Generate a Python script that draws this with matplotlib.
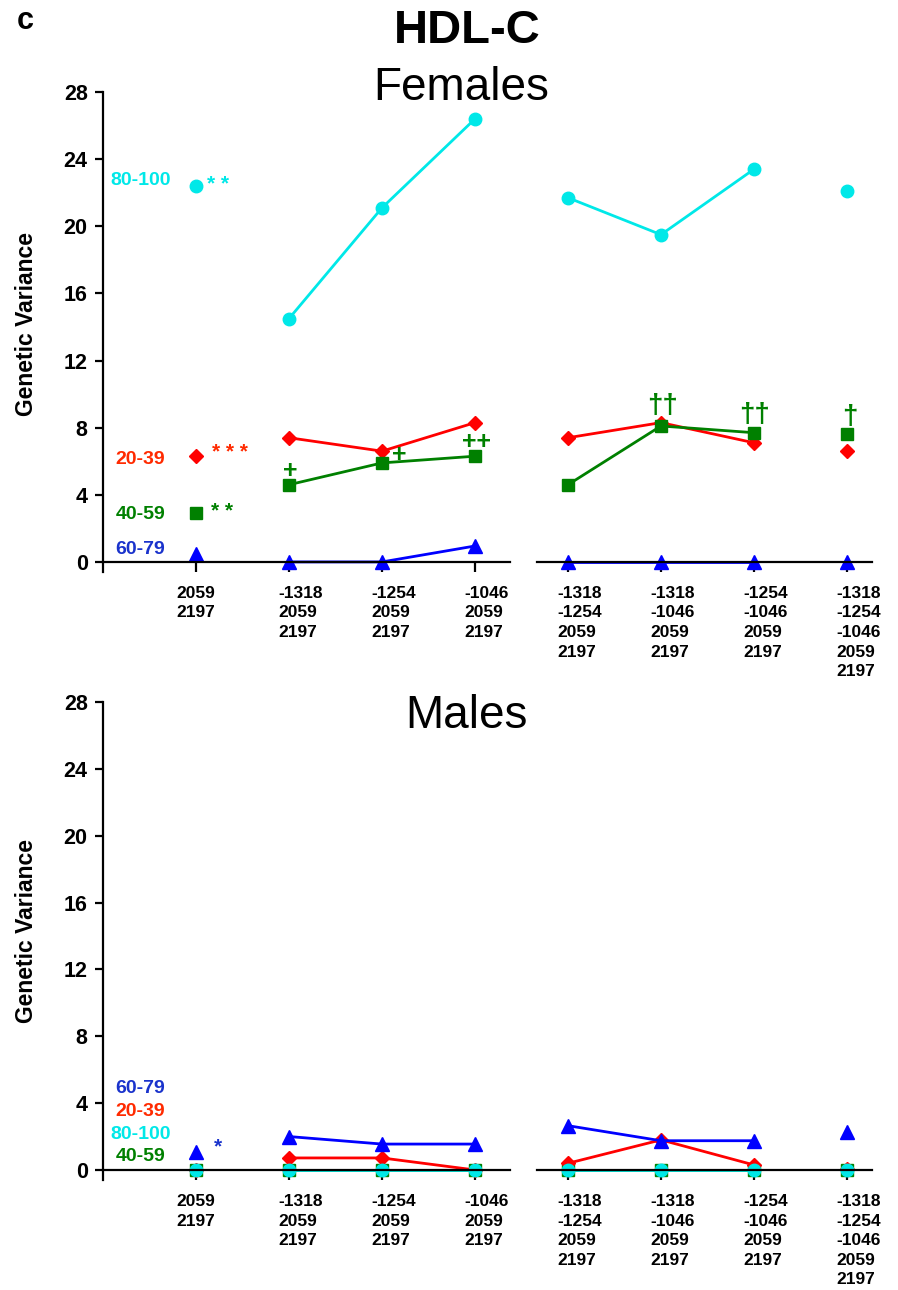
import matplotlib
matplotlib.use("Agg")
import matplotlib.pyplot as plt
from matplotlib import transforms

plt.rcParams['font.family'] = ['Liberation Sans', 'DejaVu Sans']

# x categories (SNP combinations)
positions = [1, 2, 3, 4, 5, 6, 7, 8]
xlabels = ['2059\n2197', '-1318\n2059\n2197', '-1254\n2059\n2197', '-1046\n2059\n2197',
           '-1318\n-1254\n2059\n2197', '-1318\n-1046\n2059\n2197',
           '-1254\n-1046\n2059\n2197', '-1318\n-1254\n-1046\n2059\n2197']
yticks = [0, 4, 8, 12, 16, 20, 24, 28]

# Females, genetic variance by age group
f_80_100 = [22.4, 14.5, 21.1, 26.4, 21.7, 19.5, 23.4, 22.1]
f_20_39 = [6.3, 7.4, 6.6, 8.3, 7.4, 8.3, 7.1, 6.6]
f_40_59 = [2.9, 4.6, 5.9, 6.3, 4.6, 8.1, 7.7, 7.6]
f_60_79 = [0.5, 0.0, 0.0, 0.95, 0.0, 0.0, 0.0, 0.0]

# Males
m_60_79 = [1.1, 2.0, 1.55, 1.55, 2.65, 1.75, 1.75, 2.25]
m_20_39 = [0.0, 0.72, 0.72, 0.0, 0.4, 1.8, 0.3, 0.05]
m_80_100 = [0.0, 0.0, 0.0, 0.0, 0.0, 0.0, 0.0, 0.0]
m_40_59 = [0.0, 0.0, 0.0, 0.0, 0.0, 0.0, 0.0, 0.0]

CYAN = '#00E8E8'
RED = '#FF0000'
GREEN = '#008000'
BLUE = '#0000FF'

fig = plt.figure(figsize=(8.98, 12.9), dpi=100)
W, H = 898, 1290


def px_axes(x0, x1, ytop, ybot):
    return [x0 / W, (H - ybot) / H, (x1 - x0) / W, (ybot - ytop) / H]


def make_panel(ytop, ybot):
    axl = fig.add_axes(px_axes(103, 510, ytop, ybot))
    axr = fig.add_axes(px_axes(537, 872, ytop, ybot), sharey=axl)
    axl.set_xlim(0, 4.376)
    axr.set_xlim(4.667, 8.269)
    axl.set_ylim(-0.6, 28)
    for ax in (axl, axr):
        ax.set_facecolor('none')
        ax.spines['top'].set_visible(False)
        ax.spines['right'].set_visible(False)
        ax.spines['bottom'].set_position(('data', 0))
        ax.spines['bottom'].set_linewidth(1.6)
        ax.spines['left'].set_linewidth(1.6)
        ax.tick_params(axis='x', direction='out', length=7, width=1.6, labelbottom=False)
    axr.spines['left'].set_visible(False)
    axr.tick_params(axis='y', left=False, labelleft=False)
    axl.set_xticks(positions[:4])
    axr.set_xticks(positions[4:])
    axl.set_yticks(yticks)
    axl.tick_params(axis='y', direction='out', length=6, width=1.6, pad=5,
                    labelsize=15.5)
    for lab in axl.get_yticklabels():
        lab.set_fontweight('bold')
    axl.set_ylabel('Genetic Variance', fontsize=16.5, fontweight='bold')
    axl.yaxis.set_label_coords(-0.16, 0.517)
    # multi-line x labels under the ticks
    for i, (p, lab) in enumerate(zip(positions, xlabels)):
        ax = axl if p <= 4 else axr
        if i == 0:
            tr = transforms.offset_copy(ax.transData, fig, x=0, y=-24, units='dots')
            ha = 'center'
        else:
            tr = transforms.offset_copy(ax.transData, fig, x=-11, y=-24, units='dots')
            ha = 'left'
        ax.text(p, 0, lab, transform=tr, ha=ha, va='top', fontsize=12.5,
                fontweight='bold', linespacing=1.38, multialignment='left')
    return axl, axr


def draw_series(axl, axr, vals, color, marker, ms):
    kw = dict(color=color, marker=marker, markersize=ms, linewidth=2, clip_on=False)
    axl.plot(positions[0:1], vals[0:1], linestyle='none', **kw)
    axl.plot(positions[1:4], vals[1:4], **kw)
    axr.plot(positions[4:7], vals[4:7], **kw)
    axr.plot(positions[7:8], vals[7:8], linestyle='none', **kw)


# ---- Females ----
fl, fr = make_panel(92, 572)
draw_series(fl, fr, f_80_100, CYAN, 'o', 9)
draw_series(fl, fr, f_20_39, RED, 'D', 7.5)
draw_series(fl, fr, f_40_59, GREEN, 's', 8)
draw_series(fl, fr, f_60_79, BLUE, '^', 9.5)

lab_kw = dict(ha='center', va='center', fontsize=14, fontweight='bold')
fl.text(0.4, 22.7, '80-100', color=CYAN, **lab_kw)
fl.text(0.4, 6.1, '20-39', color='#FF2A00', **lab_kw)
fl.text(0.4, 2.85, '40-59', color=GREEN, **lab_kw)
fl.text(0.4, 0.77, '60-79', color='#1A33CC', **lab_kw)

ann_kw = dict(ha='center', va='center', fontsize=15, fontweight='bold')
plus_kw = dict(ha='center', va='center', fontsize=18, fontweight='bold')
dag_kw = dict(ha='center', va='center', fontsize=20, fontweight='bold')
fl.text(1.24, 22.5, '* *', color=CYAN, **ann_kw)
fl.text(1.37, 6.55, '* * *', color='#FF2A00', **ann_kw)
fl.text(1.28, 3.0, '* *', color=GREEN, **ann_kw)
fl.text(2.01, 5.4, '+', color=GREEN, **plus_kw)
fl.text(3.18, 6.35, '+', color=GREEN, **plus_kw)
fl.text(4.02, 7.15, '++', color=GREEN, **plus_kw)
fr.text(6.02, 9.3, '††', color=GREEN, **dag_kw)
fr.text(7.01, 8.75, '††', color=GREEN, **dag_kw)
fr.text(8.03, 8.65, '†', color=GREEN, **dag_kw)

# ---- Males ----
ml, mr = make_panel(702, 1180)
ml.yaxis.set_label_coords(-0.16, 0.52)
draw_series(ml, mr, m_40_59, GREEN, 's', 8)
draw_series(ml, mr, m_20_39, RED, 'D', 7.5)
draw_series(ml, mr, m_80_100, CYAN, 'o', 9)
draw_series(ml, mr, m_60_79, BLUE, '^', 9.5)

ml.text(0.4, 4.9, '60-79', color='#1A33CC', **lab_kw)
ml.text(0.4, 3.5, '20-39', color='#FF2A00', **lab_kw)
ml.text(0.4, 2.15, '80-100', color=CYAN, **lab_kw)
ml.text(0.4, 0.78, '40-59', color=GREEN, **lab_kw)
ml.text(1.24, 1.4, '*', color='#1A33CC', **ann_kw)

# titles
fig.text(25 / W, 1 - 21 / H, 'c', ha='center', va='center', fontsize=22, fontweight='bold')
fig.text(467 / W, 1 - 31 / H, 'HDL-C', ha='center', va='center', fontsize=34, fontweight='bold')
fig.text(461 / W, 1 - 88 / H, 'Females', ha='center', va='center', fontsize=33)
fig.text(466 / W, 1 - 716 / H, 'Males', ha='center', va='center', fontsize=33)

fig.savefig('out.png', dpi=100)
